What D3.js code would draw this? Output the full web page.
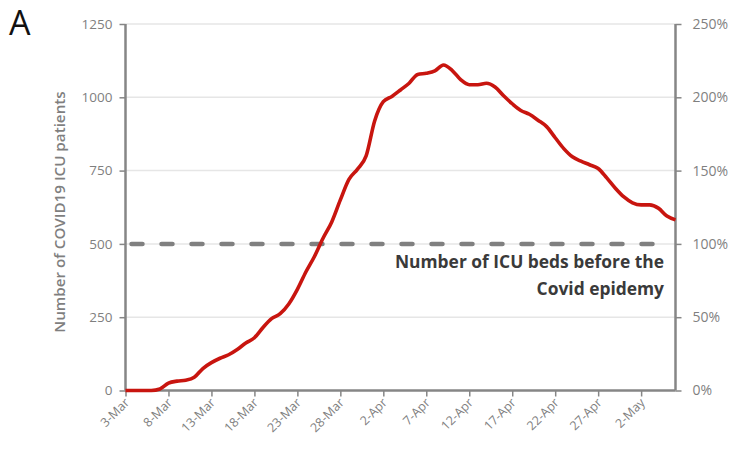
<!DOCTYPE html>
<html>
<head>
<meta charset="utf-8">
<script src="https://cdn.jsdelivr.net/npm/d3@7/dist/d3.min.js"></script>
<style>
  html, body { margin: 0; padding: 0; background: #fff; }
  svg { display: block; }
</style>
</head>
<body>
<svg id="chart" width="735" height="452"></svg>
<script>
// ---- data ----
const startDate = "2020-03-03";
const icuPatients = [0, 0, 0, 0, 5, 25, 32, 35, 45, 75,
  95, 110, 122, 140, 162, 180, 215, 245, 262, 295,
  345, 405, 458, 520, 575, 650, 720, 755, 800, 920,
  985, 1003, 1025, 1048, 1078, 1082, 1090, 1110, 1092, 1060,
  1043, 1043, 1048, 1035, 1005, 978, 955, 942, 922, 900,
  862, 825, 797, 782, 770, 757, 725, 690, 660, 640,
  633, 633, 622, 595, 582];
const bedsBefore = 500;
const leftTicks = [0, 250, 500, 750, 1000, 1250];
const rightTicks = [0, 0.5, 1, 1.5, 2, 2.5];
const xTickLabels = ["3-Mar", "8-Mar", "13-Mar", "18-Mar", "23-Mar", "28-Mar", "2-Apr",
  "7-Apr", "12-Apr", "17-Apr", "22-Apr", "27-Apr", "2-May"];
const yTitle = "Number of COVID19 ICU patients";
const annotationLines = ["Number of ICU beds before the", "Covid epidemy"];
const panelLabel = "A";

// ---- layout ----
const svg = d3.select("#chart");
const pLeft = 125.5, pRight = 675.5, pTop = 24, pBottom = 390.5;
const parse = d3.timeParse("%Y-%m-%d");
const d0 = parse(startDate);
const dates = icuPatients.map((_, i) => d3.timeDay.offset(d0, i));
const data = dates.map((d, i) => ({ date: d, v: icuPatients[i] }));

const x = d3.scaleTime().domain([dates[0], dates[dates.length - 1]]).range([pLeft, pRight]);
const y = d3.scaleLinear().domain([0, 1250]).range([pBottom, pTop]);
const yR = d3.scaleLinear().domain([0, 2.5]).range([pBottom, pTop]);

const grey = "#868686";
const labelGrey = "#7f7f7f";
const font = "'Open Sans', 'Noto Sans', sans-serif";

// gridlines
svg.append("g").selectAll("line").data(leftTicks.filter(t => t > 0)).join("line")
  .attr("x1", pLeft).attr("x2", pRight)
  .attr("y1", d => y(d)).attr("y2", d => y(d))
  .attr("stroke", "#e6e6e6").attr("stroke-width", 1.5);

// left axis
const gL = svg.append("g").attr("transform", `translate(${pLeft},0)`)
  .call(d3.axisLeft(y).tickValues(leftTicks).tickSize(6).tickPadding(7).tickFormat(d3.format("d")));
// right axis
const gR = svg.append("g").attr("transform", `translate(${pRight},0)`)
  .call(d3.axisRight(yR).tickValues(rightTicks).tickSize(6).tickPadding(11).tickFormat(d3.format(".0%")));
// bottom axis
const tickDates = xTickLabels.map((_, i) => d3.timeDay.offset(d0, i * 5));
const gB = svg.append("g").attr("transform", `translate(0,${pBottom})`)
  .call(d3.axisBottom(x).tickValues(tickDates).tickSize(6).tickFormat((d, i) => xTickLabels[i]));

[gL, gR, gB].forEach(g => {
  g.select(".domain").attr("stroke", grey).attr("stroke-width", 2.5);
  g.selectAll(".tick line").attr("stroke", grey).attr("stroke-width", 1.5);
  g.selectAll("text").attr("fill", labelGrey).attr("font-family", font).attr("font-size", 13.5);
});
gR.selectAll("text").attr("font-size", 14);
gB.select(".domain").attr("d", `M${pLeft},0H${pRight}`);
gL.select(".domain").attr("d", `M0,${pTop}V${pBottom}`);
gR.select(".domain").attr("d", `M0,${pTop}V${pBottom}`);
gB.selectAll(".tick text")
  .attr("font-size", 12.5)
  .attr("text-anchor", "end")
  .attr("dy", null).attr("y", 0)
  .attr("transform", "translate(4,13) rotate(-45)");

// dashed reference line
svg.append("line")
  .attr("x1", pLeft + 6).attr("x2", pRight - 8)
  .attr("y1", y(bedsBefore)).attr("y2", y(bedsBefore))
  .attr("stroke", "#808080").attr("stroke-width", 4.5)
  .attr("stroke-dasharray", "11 19").attr("stroke-linecap", "round");

// line
svg.append("path").datum(data)
  .attr("fill", "none").attr("stroke", "#c8150f").attr("stroke-width", 3.6)
  .attr("stroke-linejoin", "round")
  .attr("d", d3.line().x(d => x(d.date)).y(d => y(d.v)).curve(d3.curveMonotoneX));

// annotation
const ann = svg.append("text").attr("font-family", font).attr("font-weight", "bold")
  .attr("font-size", 17.4).attr("fill", "#3a3a3a").attr("text-anchor", "end");
annotationLines.forEach((t, i) => ann.append("tspan").attr("x", 664).attr("y", 268 + i * 27).text(t));

// y title
svg.append("text")
  .attr("transform", `translate(65,212) rotate(-90)`)
  .attr("text-anchor", "middle").attr("font-family", font).attr("font-weight", 600)
  .attr("font-size", 15.2).attr("fill", labelGrey).text(yTitle);

// panel label
svg.append("text").attr("x", 9).attr("y", 35).attr("font-family", font)
  .attr("font-size", 34).attr("fill", "#111").text(panelLabel);
</script>
</body>
</html>
